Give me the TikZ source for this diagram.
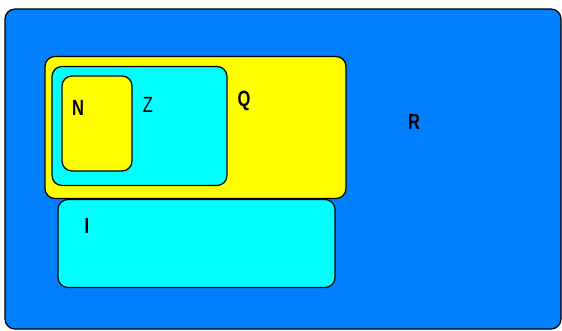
\documentclass[tikz,border=0pt]{standalone}
\usepackage{fontspec}
\setmainfont{Liberation Sans}
\definecolor{rblue}{HTML}{0080FF}
\definecolor{ryellow}{HTML}{FFFF00}
\definecolor{rcyan}{HTML}{00FFFF}
\begin{document}
\begin{tikzpicture}[x=1pt,y=-1pt,
  setbox/.style={draw=black, line width=1.2pt, rounded corners=10pt, inner sep=0pt},
  setlabel/.style={font=\bfseries\fontsize{22}{22}\selectfont, inner sep=0pt, xscale=0.75}]
\useasboundingbox (0,0) rectangle (562,330);
\fill[white] (0,0) rectangle (562,330);
\node[setbox, fill=rblue, minimum width=556pt, minimum height=320pt] (R) at (283,169) {};
\node[setbox, fill=ryellow, minimum width=301pt, minimum height=142pt] (Q) at (195.5,127.5) {};
\node[setbox, fill=rcyan, minimum width=175pt, minimum height=119pt] (Z) at (139.5,126) {};
\node[setbox, fill=ryellow, minimum width=70pt, minimum height=95pt] (N) at (97,123.5) {};
\node[setbox, fill=rcyan, minimum width=277pt, minimum height=88pt] (I) at (196.5,243.5) {};
\node[setlabel] (Nl) at (78,108) {N};
\node[setlabel, font=\fontsize{22}{22}\selectfont] (Zl) at (148,105) {Z};
\node[setlabel] (Ql) at (244,101) {Q};
\node[setlabel] (Rl) at (414,122) {R};
\node[setlabel] (Il) at (87,226) {I};
\end{tikzpicture}
\end{document}
